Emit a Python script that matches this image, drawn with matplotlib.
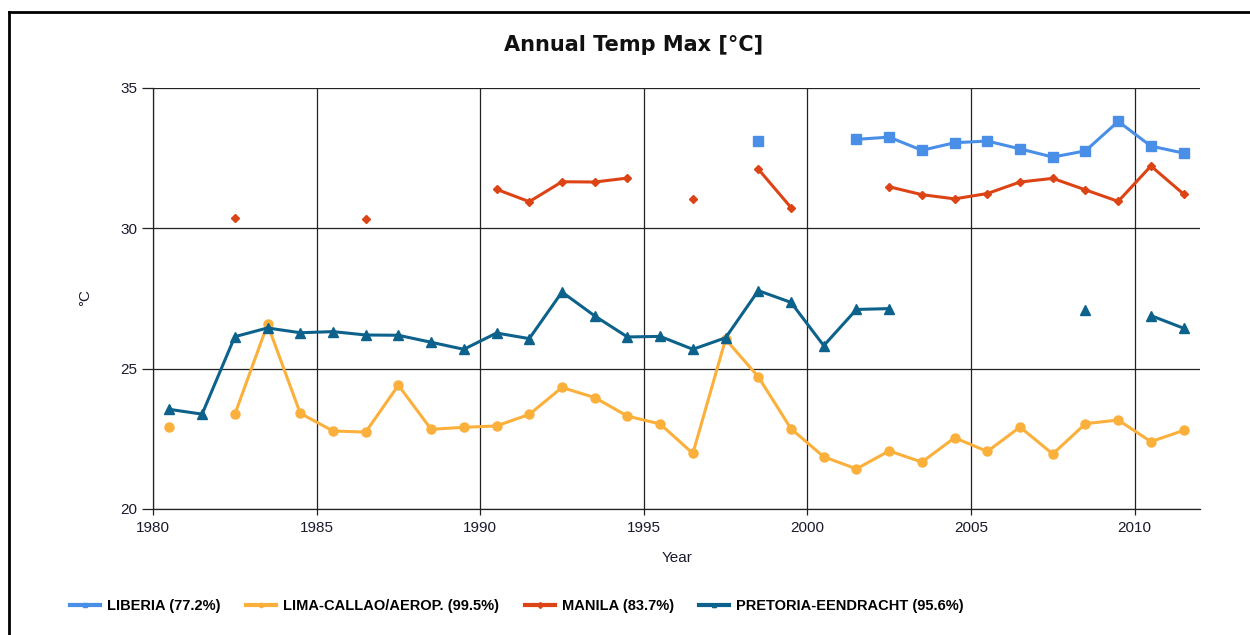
import numpy as np
import matplotlib.pyplot as plt
from matplotlib.lines import Line2D

###########################################################
# data (annual max temperature, deg C), nan = missing year
###########################################################
nan = np.nan
years = np.arange(1980.5, 2012.0, 1.0)

liberia = [nan, nan, nan, nan, nan, nan, nan, nan, nan, nan,
           nan, nan, nan, nan, nan, nan, nan, nan, 33.10, nan,
           nan, 33.17, 33.25, 32.78, 33.05, 33.11, 32.83, 32.54, 32.76, 33.81,
           32.93, 32.68]
lima = [22.91, nan, 23.37, 26.58, 23.41, 22.78, 22.74, 24.41, 22.84, 22.91,
        22.96, 23.37, 24.33, 23.97, 23.31, 23.03, 21.98, 26.05, 24.71, 22.86,
        21.86, 21.43, 22.07, 21.67, 22.54, 22.05, 22.92, 21.96, 23.04, 23.17,
        22.40, 22.80]
manila = [nan, nan, 30.38, nan, nan, nan, 30.34, nan, nan, nan,
          31.39, 30.95, 31.66, 31.65, 31.79, nan, 31.06, nan, 32.11, 30.74,
          nan, nan, 31.48, 31.20, 31.05, 31.24, 31.65, 31.78, 31.37, 30.96,
          32.22, 31.22]
pretoria = [23.55, 23.38, 26.14, 26.45, 26.28, 26.32, 26.20, 26.19, 25.94, 25.69,
            26.27, 26.07, 27.73, 26.88, 26.13, 26.15, 25.69, 26.10, 27.78, 27.36,
            25.82, 27.11, 27.14, nan, nan, nan, nan, nan, 27.08, nan,
            26.89, 26.44]

labels = ["LIBERIA (77.2%)", "LIMA-CALLAO/AEROP. (99.5%)",
          "MANILA (83.7%)", "PRETORIA-EENDRACHT (95.6%)"]
colors = ["#4a8fe7", "#fbb03b", "#dc4315", "#0d628c"]
markers = ["s", "o", "D", "^"]
msizes = [6.5, 6.5, 4.5, 6.5]
series = [liberia, lima, manila, pretoria]

###########################################################
# figure
###########################################################
fig = plt.figure(figsize=(12.5, 6.35), dpi=100)
ax = fig.add_axes([153 / 1250, 1 - 509 / 635, (1200 - 153) / 1250, (509 - 88) / 635])

for vals, lab, c, m, ms in zip(series, labels, colors, markers, msizes):
    ax.plot(years, vals, color=c, marker=m, markersize=ms, lw=2.2,
            markeredgecolor=c, label=lab, zorder=3)

ax.set_xlim(1980, 2012)
ax.set_ylim(20, 35)
ax.set_xticks(range(1980, 2011, 5))
ax.set_yticks(range(20, 36, 5))
ax.grid(True, color="#222222", lw=0.9)
ax.set_axisbelow(True)
for s in ["top", "right"]:
    ax.spines[s].set_visible(False)
for s in ["left", "bottom"]:
    ax.spines[s].set_color("#222222")
    ax.spines[s].set_linewidth(0.9)

ax.tick_params(axis="y", length=8, width=0.9, color="#222222", pad=3.5)
ax.tick_params(axis="x", length=4, width=0.9, color="#222222", pad=5)
for t in ax.get_xticklabels() + ax.get_yticklabels():
    t.set_fontfamily("Liberation Sans")
    t.set_fontsize(11)
    t.set_color("#1a1a2e")

fig.text(634 / 1250, 1 - 45 / 635, "Annual Temp Max [°C]", ha="center", va="center",
         fontsize=15, fontweight="bold", family="DejaVu Sans", color="#111111")
fig.text(677 / 1250, 1 - 558 / 635, "Year", ha="center", va="center",
         fontsize=11, family="Liberation Sans", color="#1a1a2e")
fig.text(85 / 1250, 1 - 298 / 635, "°C", ha="center", va="center", rotation=90,
         fontsize=11, family="Liberation Sans", color="#1a1a2e")

# legend at the bottom, small markers on the line handles
handles = [Line2D([], [], color=c, marker=m, markersize=3, lw=3) for c, m in zip(colors, markers)]
fig.legend(handles, labels, loc="center left", bbox_to_anchor=(70 / 1250, 1 - 606 / 635),
           ncol=4, frameon=False, borderpad=0, borderaxespad=0, handlelength=2.06,
           handletextpad=0.48, columnspacing=1.75,
           prop={"family": "Liberation Sans", "weight": "bold", "size": 10.5})

# outer frame (top and left edge only visible)
fig.add_artist(Line2D([9 / 1250, 1.0], [1 - 12 / 635, 1 - 12 / 635], color="black", lw=2,
                      transform=fig.transFigure))
fig.add_artist(Line2D([9 / 1250, 9 / 1250], [0, 1 - 12 / 635], color="black", lw=2,
                      transform=fig.transFigure))

fig.savefig("out.png", dpi=100)
